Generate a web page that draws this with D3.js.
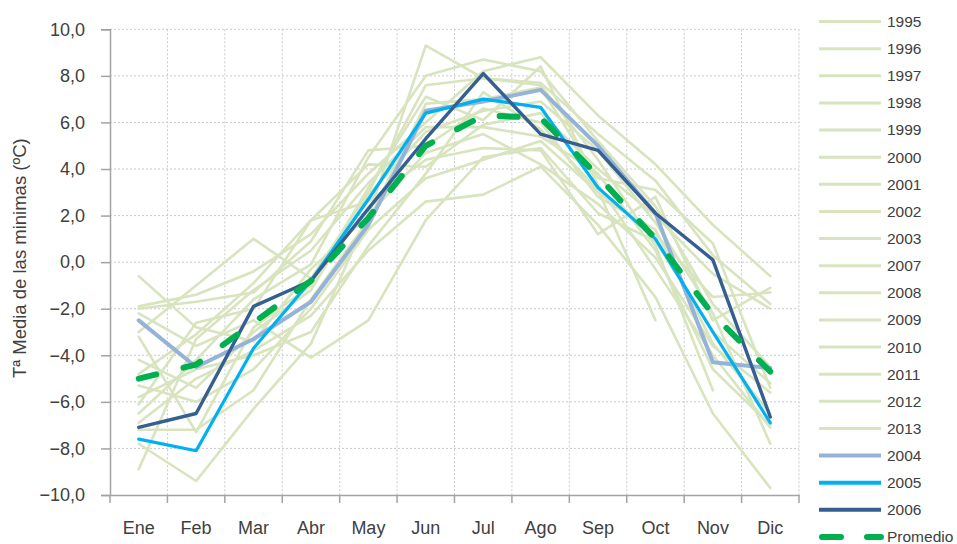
<!DOCTYPE html>
<html lang="es">
<head>
<meta charset="utf-8">
<script src="https://cdn.jsdelivr.net/npm/d3@7/dist/d3.min.js"></script>
<style>
  html, body { margin: 0; padding: 0; background: #ffffff; }
  svg { display: block; font-family: "Liberation Sans", Arial, sans-serif; }
</style>
</head>
<body>
<svg id="chart" width="957" height="544"></svg>
<script>
// Meses del año
const months = ["Ene", "Feb", "Mar", "Abr", "May", "Jun", "Jul", "Ago", "Sep", "Oct", "Nov", "Dic"];

// Marcas del eje de temperatura (ºC)
const yTicks = [-10, -8, -6, -4, -2, 0, 2, 4, 6, 8, 10];

// Años de fondo (temperatura media de las mínimas, ºC)
const backgroundYears = ["1995", "1996", "1997", "1998", "1999", "2000", "2001", "2002", "2003",
                         "2007", "2008", "2009", "2010", "2011", "2012", "2013"];
const backgroundValues = [
  [-1.9, -1.4, -0.4,  1.2,  3.8, 6.0, 8.2, 8.8, 6.3,  4.2,  1.6, -0.6],
  [-0.6, -2.8, -3.4, -0.3,  2.0, 4.7, 5.5, 4.2, 2.5,  0.2, -3.6, -5.6],
  [-3.0, -1.0,  1.0, -0.7,  3.0, 7.6, 7.9, 7.7, 5.5,  3.5,  0.3, -1.8],
  [-6.5, -4.2, -1.6, -0.1,  4.5, 8.0, 8.7, 8.2, 5.2,  2.4, -1.8, -4.5],
  [-4.2, -5.4, -3.0, -1.2,  2.9, 5.6, 6.5, 6.9, 4.8,  1.7, -2.2, -7.8],
  [-8.9, -3.3, -1.2,  0.5,  3.4, 5.8, 5.8, 5.4, 3.8,  0.5, -4.6, -7.0],
  [-2.2, -3.6, -2.5, -4.1, -2.5, 1.8, 4.5, 4.9, 2.1,  0.9, -3.0, -5.2],
  [-5.3, -6.0, -4.6, -2.0,  1.4, 3.6, 4.4, 5.2, 3.0,  1.2, -1.5, -1.3],
  [-7.8, -9.4, -6.3, -3.5,  2.0, 9.3, 7.9, 7.6, 4.4,  0.7, -5.5, null],
  [-6.1, -2.6, -2.0,  1.8,  2.6, 4.4, 4.9, 4.8, 1.2,  2.8, -2.5, -1.1],
  [-2.0, -1.7, -1.3,  0.9,  4.8, 5.0, 6.6, 6.0, 2.8,  1.4, -3.5, -6.5],
  [-7.2, -7.2, -5.5, -1.6,  1.8, 6.8, 7.0, 7.5, 3.6,  3.1,  0.8, -5.4],
  [-6.9, -5.0, -3.8, -2.3,  0.5, 2.6, 2.9, 4.1, 1.6, -1.5, -6.5, -9.7],
  [-4.8, -3.1, -0.9,  1.8,  4.2, 4.1, 5.9, 6.4, 4.0,  2.0, -0.5, -2.0],
  [-3.2, -7.3, -2.8, -1.0,  3.2, 7.1, 6.1, 8.4, 3.3, -0.3, -4.0, -7.1],
  [-5.8, -4.6, -4.0, -3.0,  0.7, 3.8, 7.3, 5.7, 3.1, -2.5, null, null]
];

// Años destacados
const values2004 = [-2.5, -4.5, -3.3, -1.7, 1.6, 6.5, 6.9, 7.4, 5.0, 2.1, -4.3, -4.55];
const values2005 = [-7.6, -8.1, -3.7, -0.8, 2.7, 6.4, 7.0, 6.65, 3.2, 1.0, -3.0, -6.9];
const values2006 = [-7.1, -6.5, -1.9, -0.8, 2.3, 5.3, 8.1, 5.5, 4.8, 2.1, 0.1, -6.65];

// Media de todos los años
const valuesPromedio = [-5.0, -4.4, -2.6, -0.8, 1.9, 5.0, 6.3, 6.2, 3.7, 1.0, -2.25, -4.7];

const yTitle = "Tª Media de las minimas (ºC)";

// ---------------------------------------------------------------
const svg = d3.select("#chart");
const plot = { left: 110, right: 799, top: 29.3, bottom: 495 };

const x = d3.scaleBand().domain(months).range([plot.left, plot.right]).padding(0);
const y = d3.scaleLinear().domain([-10, 10]).range([plot.bottom, plot.top]);
const cx = m => x(m) + x.bandwidth() / 2;
const fmt = v => d3.format(".1f")(v).replace(".", ",");

const textColor = "#404040";
const gridColor = "#c9c9d0";
const axisColor = "#a3a3a3";

// Rejilla punteada
const grid = svg.append("g");
grid.selectAll("line.h").data(yTicks.filter(t => t > -10)).join("line")
  .attr("x1", plot.left).attr("x2", plot.right)
  .attr("y1", d => y(d)).attr("y2", d => y(d))
  .attr("stroke", gridColor).attr("stroke-width", 1).attr("stroke-dasharray", "2,2");
const vBounds = months.slice(1).map(m => x(m)).concat([plot.right]);
grid.selectAll("line.v").data(vBounds).join("line")
  .attr("x1", d => d).attr("x2", d => d)
  .attr("y1", plot.top).attr("y2", plot.bottom)
  .attr("stroke", gridColor).attr("stroke-width", 1).attr("stroke-dasharray", "2,2");

// Eje Y
const yAxis = svg.append("g")
  .attr("transform", `translate(${plot.left},0)`)
  .call(d3.axisLeft(y).tickValues(yTicks).tickFormat(fmt).tickSize(9).tickPadding(16));
yAxis.select(".domain").attr("stroke", axisColor).attr("stroke-width", 1.5);
yAxis.selectAll(".tick line").attr("stroke", axisColor).attr("stroke-width", 1.5);
yAxis.selectAll(".tick text")
  .attr("fill", textColor).attr("font-size", 18)
  .attr("font-family", "'Liberation Sans', Arial, sans-serif");

// Eje X
const xAxis = svg.append("g")
  .attr("transform", `translate(0,${plot.bottom})`)
  .call(d3.axisBottom(x).tickSize(0).tickPadding(26));
xAxis.select(".domain").attr("stroke", axisColor).attr("stroke-width", 1.5);
xAxis.selectAll(".tick text")
  .attr("fill", textColor).attr("font-size", 18)
  .attr("font-family", "'Liberation Sans', Arial, sans-serif");
// marcas entre categorías
const xTickPos = [plot.left].concat(vBounds);
svg.append("g").selectAll("line").data(xTickPos).join("line")
  .attr("x1", d => d).attr("x2", d => d)
  .attr("y1", plot.bottom).attr("y2", plot.bottom + 8)
  .attr("stroke", axisColor).attr("stroke-width", 1.5);

// Título del eje Y
svg.append("text")
  .attr("transform", `translate(26,${(plot.top + plot.bottom) / 2 - 4}) rotate(-90)`)
  .attr("text-anchor", "middle")
  .attr("fill", textColor).attr("font-size", 18.5)
  .text(yTitle);

// Líneas
const line = d3.line()
  .defined(d => d.v !== null)
  .x(d => cx(d.m))
  .y(d => y(d.v));
const toPoints = arr => arr.map((v, i) => ({ m: months[i], v }));

const series = backgroundYears.map((name, i) => ({
  name, values: backgroundValues[i], color: "#d7e4bd", width: 2.6, dash: null, legendWidth: 3
}));
series.push({ name: "2004", values: values2004, color: "#95b3d7", width: 4, dash: null, legendWidth: 4 });
series.push({ name: "2005", values: values2005, color: "#00b0f0", width: 3.2, dash: null, legendWidth: 4 });
series.push({ name: "2006", values: values2006, color: "#365f91", width: 3.4, dash: null, legendWidth: 4 });
series.push({ name: "Promedio", values: valuesPromedio, color: "#00b050", width: 6, dash: "18,28", legendWidth: 6 });

const lines = svg.append("g");
lines.selectAll("path").data(series).join("path")
  .attr("d", s => line(toPoints(s.values)))
  .attr("fill", "none")
  .attr("stroke", s => s.color)
  .attr("stroke-width", s => s.width)
  .attr("stroke-linejoin", "round")
  .attr("stroke-linecap", "round")
  .attr("stroke-dasharray", s => s.dash);

// Leyenda
const legend = svg.append("g");
const legendY = d3.scalePoint().domain(series.map(s => s.name)).range([21.5, 537]);
const item = legend.selectAll("g").data(series).join("g")
  .attr("transform", s => `translate(0,${legendY(s.name)})`);
item.append("line")
  .attr("x1", s => s.dash ? 822 : 819).attr("x2", 881)
  .attr("y1", 0).attr("y2", 0)
  .attr("stroke", s => s.color)
  .attr("stroke-width", s => s.legendWidth)
  .attr("stroke-linecap", s => s.dash ? "round" : "butt")
  .attr("stroke-dasharray", s => s.dash ? "19,26" : null);
item.append("text")
  .attr("x", 887).attr("y", 0).attr("dy", "0.35em")
  .attr("fill", textColor).attr("font-size", 15.5)
  .text(s => s.name);
</script>
</body>
</html>
